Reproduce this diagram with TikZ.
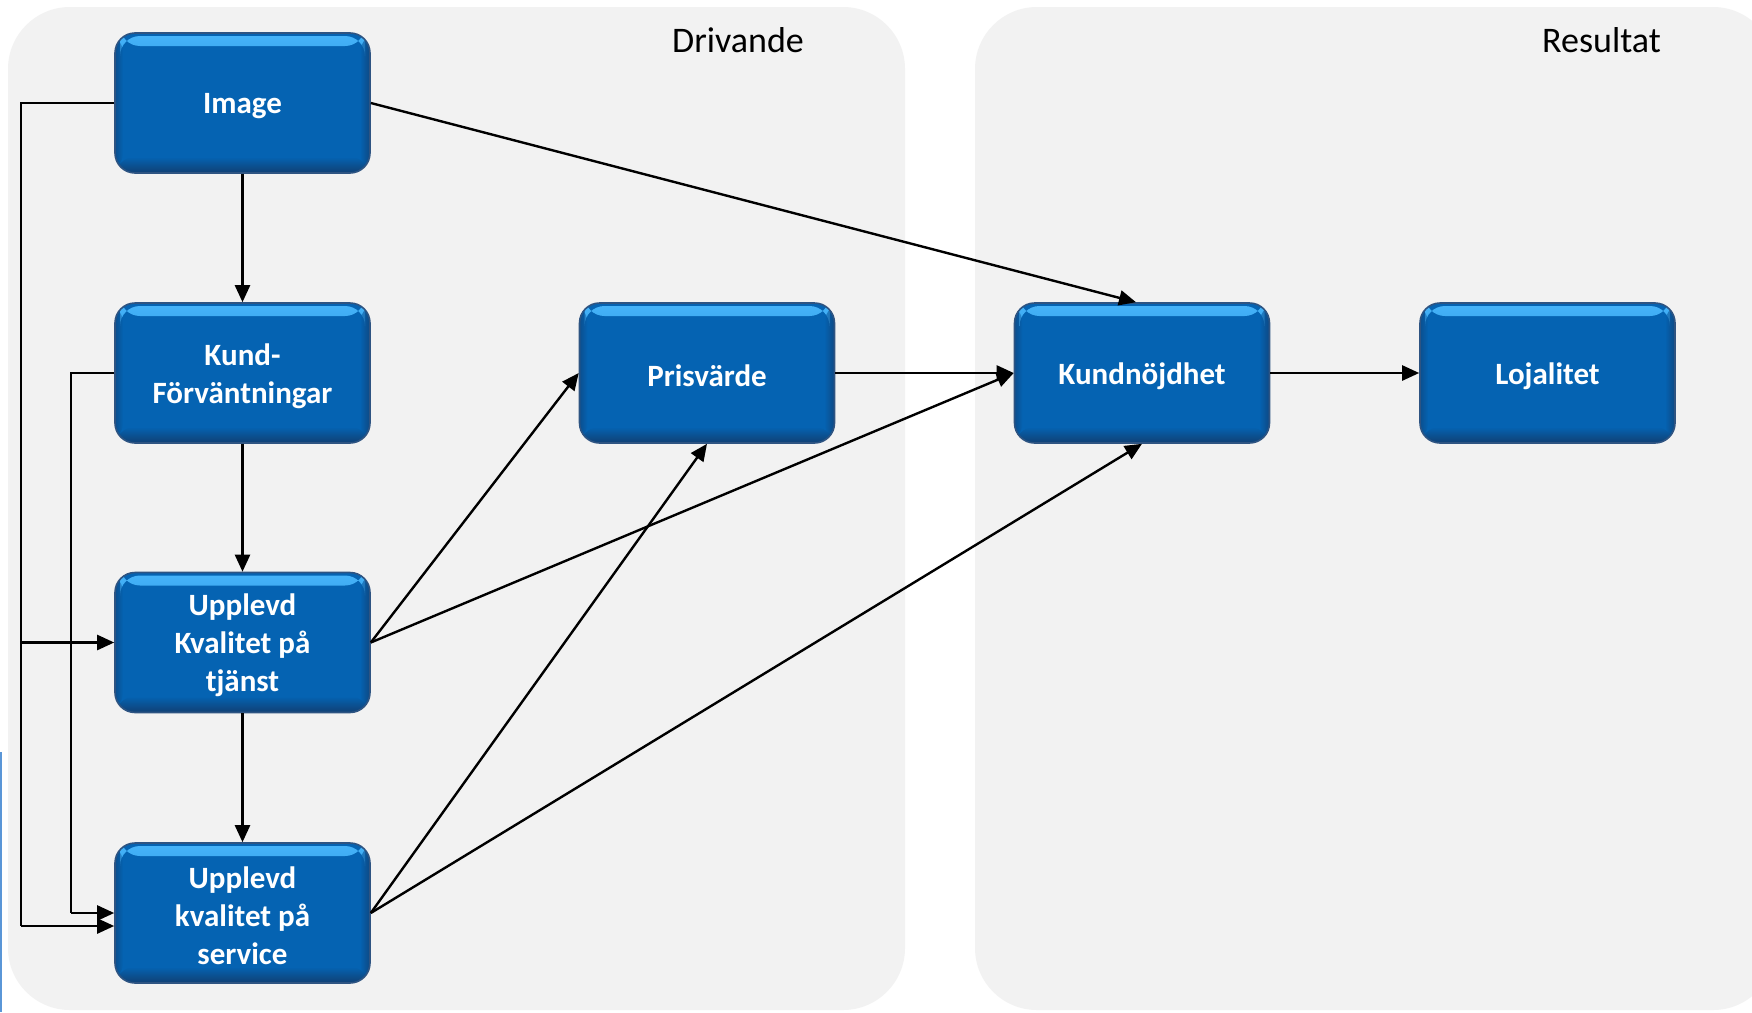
\documentclass[tikz,border=0pt]{standalone}
\usepackage{fontspec}
\setmainfont{Carlito}
\usetikzlibrary{arrows.meta,calc}
\definecolor{panel}{RGB}{242,242,242}
\definecolor{boxblue}{RGB}{5,99,178}
\definecolor{edgeblue}{RGB}{46,84,130}
\definecolor{darkblue}{RGB}{20,55,100}
\definecolor{hiblue}{RGB}{70,180,250}
\definecolor{artblue}{RGB}{90,150,215}
\tikzset{
  panelbox/.style={fill=panel, draw=none, rounded corners=62pt},
  boxnode/.style={rectangle, rounded corners=20pt, minimum width=255pt, minimum height=140pt,
    inner sep=0pt, fill=boxblue, draw=edgeblue, line width=1.6pt,
    path picture={
      \shade[top color=hiblue, bottom color=boxblue]
        ([xshift=5pt,yshift=-3pt]path picture bounding box.north west) rectangle ([xshift=-5pt,yshift=-13pt]path picture bounding box.north east);
      \shade[top color=boxblue, bottom color=darkblue, opacity=0.8]
        ([yshift=16pt]path picture bounding box.south west) rectangle (path picture bounding box.south east);
      \shade[left color=boxblue, right color=darkblue, opacity=0.6]
        ([xshift=-10pt]path picture bounding box.north east) rectangle (path picture bounding box.south east);
      \shade[left color=darkblue, right color=boxblue, opacity=0.45]
        (path picture bounding box.north west) rectangle ([xshift=8pt]path picture bounding box.south west);
    }},
  boxtext/.style={align=center, text=white, inner sep=0pt, font=\fontsize{31}{38}\selectfont\bfseries},
  titletext/.style={font=\fontsize{36}{43}\selectfont, text=black, anchor=base, inner sep=0pt},
  conn/.style={draw=black, line width=2.4pt, line join=miter},
  arr/.style={conn, -{Triangle[length=17pt,width=15pt]}}
}
\begin{document}
\begin{tikzpicture}[x=1pt,y=-1pt]
\useasboundingbox (0,0) rectangle (1752,1012);
\fill[white] (0,0) rectangle (1752,1012);
% panels
\fill[panelbox] (8,7) rectangle (905,1010);
\fill[panelbox] (975,7) rectangle (1775,1010);
\draw[artblue, line width=2pt] (1,752) -- (1,1012);
\node[titletext] (drv) at (738,52.5) {Drivande};
\node[titletext] (res) at (1601.5,52.5) {Resultat};
% boxes
\node[boxnode, label={[boxtext, yshift=-3pt]center:Image}] (img) at (242.5,103) {};
\node[boxnode, label={[boxtext, yshift=-3pt]center:Kund-\\Förväntningar}] (kf) at (242.5,373) {};
\node[boxnode, label={[boxtext, yshift=-3pt]center:Upplevd\\Kvalitet på\\tjänst}] (ukt) at (242.5,642.5) {};
\node[boxnode, label={[boxtext, yshift=-3pt]center:Upplevd\\kvalitet på\\service}] (uks) at (242.5,913) {};
\node[boxnode, label={[boxtext, yshift=-3pt]center:Prisvärde}] (pv) at (707,373) {};
\node[boxnode, label={[boxtext, yshift=-3pt]center:Kundnöjdhet}] (kn) at (1142,373) {};
\node[boxnode, label={[boxtext, yshift=-3pt]center:Lojalitet}] (loj) at (1547.5,373) {};
% helper coordinates
\coordinate (oTop) at (21,103);
\coordinate (oMid) at (21,642.5);
\coordinate (oBot) at (21,926);
\coordinate (iTop) at (71,373);
\coordinate (iBot) at (71,913);
% connectors
\draw[conn] (img.west) -- (oTop) -- (oBot);
\draw[arr] (oMid) -- (ukt.west);
\draw[arr] (oBot) -- (uks.west |- oBot);
\draw[conn] (kf.west) -- (iTop) -- (iBot);
\draw[arr] (iBot) -- (uks.west);
\draw[arr] (img.south) -- (kf.north);
\draw[arr] (kf.south) -- (ukt.north);
\draw[arr] (ukt.south) -- (uks.north);
\draw[arr] (img.east) -- ([xshift=-6pt]kn.north);
\draw[arr] (ukt.east) -- (pv.west);
\draw[arr] (ukt.east) -- (kn.west);
\draw[arr] (uks.east) -- (pv.south);
\draw[arr] (uks.east) -- (kn.south);
\draw[arr] (pv.east) -- (kn.west);
\draw[arr] (kn.east) -- (loj.west);
\end{tikzpicture}
\end{document}
